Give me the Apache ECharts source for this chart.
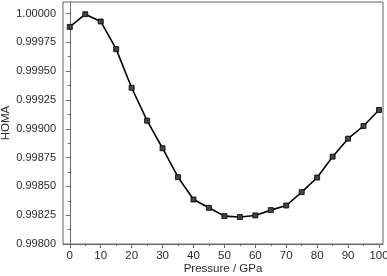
<!DOCTYPE html>
<html><head><meta charset="utf-8">
<script src="https://cdn.jsdelivr.net/npm/echarts@6/dist/echarts.min.js"></script>
<style>html,body{margin:0;padding:0;background:#fff}#c{width:387px;height:276px}</style>
</head><body><div id="c"></div>
<script>
var pressure = [0,5,10,15,20,25,30,35,40,45,50,55,60,65,70,75,80,85,90,95,100];
var homa = [0.999884,0.999994,0.999931,0.999691,0.999356,0.999070,0.998831,0.998580,0.998386,0.998314,0.998242,0.998234,0.998248,0.998294,0.998334,0.998450,0.998577,0.998758,0.998914,0.999024,0.999163];
var xMajor = [0,10,20,30,40,50,60,70,80,90,100];
var xMinor = [5,15,25,35,45,55,65,75,85,95];
var yMajor = [0.998,0.99825,0.9985,0.99875,0.999,0.99925,0.9995,0.99975,1.0];
var yMinor = [0.998125,0.998375,0.998625,0.998875,0.999125,0.999375,0.999625,0.999875];

var font = 'Liberation Sans, Arial, sans-serif';
var axisCol = '#666';
var txtCol = '#2a2a2a';
var xmin = -2.2, xmax = 101.3, ymin = 0.998, ymax = 1.0001;
var chart = echarts.init(document.getElementById('c'));
chart.setOption({
  animation:false,
  grid:{left:63,right:4,top:2,bottom:32,show:true,borderColor:axisCol,borderWidth:1,backgroundColor:'transparent',outerBoundsMode:'none',containLabel:false},
  xAxis:[{
    type:'value',min:xmin,max:xmax,position:'bottom',
    name:'Pressure / GPa',nameLocation:'middle',nameGap:19,nameMoveOverlap:false,
    nameTextStyle:{fontFamily:font,fontSize:11.5,color:txtCol},
    axisLine:{show:true,lineStyle:{color:axisCol}},
    axisTick:{show:true,length:4,lineStyle:{color:axisCol},customValues:xMajor},
    axisLabel:{fontFamily:font,fontSize:11.5,color:txtCol,margin:6,customValues:xMajor},
    splitLine:{show:false}
  },{
    type:'value',min:xmin,max:xmax,position:'bottom',
    axisLine:{show:false},
    axisTick:{show:true,length:2,lineStyle:{color:axisCol},customValues:xMinor},
    axisLabel:{show:false},splitLine:{show:false}
  }],
  yAxis:[{
    type:'value',min:ymin,max:ymax,position:'left',
    name:'HOMA',nameLocation:'middle',nameGap:51,nameMoveOverlap:false,
    nameTextStyle:{fontFamily:font,fontSize:11.5,color:txtCol},
    axisLine:{show:true,lineStyle:{color:axisCol}},
    axisTick:{show:true,length:4,lineStyle:{color:axisCol},customValues:yMajor},
    axisLabel:{fontFamily:font,fontSize:11,color:txtCol,margin:7,customValues:yMajor,
      formatter:function(v){return v.toFixed(5);}},
    splitLine:{show:false}
  },{
    type:'value',min:ymin,max:ymax,position:'left',
    axisLine:{show:false},
    axisTick:{show:true,length:2,lineStyle:{color:axisCol},customValues:yMinor},
    axisLabel:{show:false},splitLine:{show:false}
  }],
  series:[{
    type:'line',xAxisIndex:0,yAxisIndex:0,
    data:pressure.map(function(p,i){return [p,homa[i]];}),
    symbol:'rect',symbolSize:5,
    lineStyle:{color:'#000',width:1.6},
    itemStyle:{color:'#444',borderColor:'#000',borderWidth:0.8}
  }]
});
</script></body></html>
